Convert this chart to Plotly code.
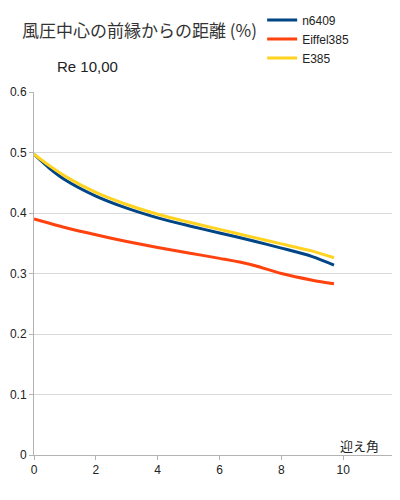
import plotly.graph_objects as go

angles = [0, 0.5, 1, 2, 3, 4, 5, 6, 7, 8, 9, 9.7]
n6409 = [0.497, 0.474, 0.455, 0.428, 0.408, 0.392, 0.379, 0.367, 0.355, 0.342, 0.328, 0.314]
eiffel385 = [0.390, 0.383, 0.376, 0.364, 0.353, 0.343, 0.334, 0.325, 0.315, 0.300, 0.289, 0.283]
e385 = [0.497, 0.478, 0.461, 0.434, 0.414, 0.398, 0.385, 0.373, 0.361, 0.349, 0.337, 0.326]

series = [("n6409", n6409, "#004586"), ("Eiffel385", eiffel385, "#ff420e"), ("E385", e385, "#ffd320")]

y_ticks = [0, 0.1, 0.2, 0.3, 0.4, 0.5, 0.6]
y_labels = ["0", "0.1", "0.2", "0.3", "0.4", "0.5", "0.6"]
x_ticks = [0, 2, 4, 6, 8, 10]

fig = go.Figure()
for name, vals, col in series:
    fig.add_trace(go.Scatter(x=angles, y=vals, mode="lines", name=name,
                             line=dict(color=col, width=3, shape="spline", smoothing=0.8)))

fig.update_layout(
    width=400, height=500,
    margin=dict(l=26, r=6, t=84, b=53, autoexpand=False),
    paper_bgcolor="white", plot_bgcolor="white",
    font=dict(family="Liberation Sans, DejaVu Sans, sans-serif", size=12, color="#222"),
    showlegend=True,
    legend=dict(x=0.62, y=1.146, xref="paper", yref="paper",
                xanchor="left", yanchor="middle",
                font=dict(size=12, color="#222"),
                bgcolor="rgba(0,0,0,0)", tracegroupgap=0),
    xaxis=dict(range=[0, 11.9], tickvals=x_ticks, showgrid=False, zeroline=False,
               showline=True, linecolor="#b3b3b3", linewidth=1, automargin=False,
               ticks="outside", ticklen=4, tickcolor="#b3b3b3",
               tickfont=dict(size=12, color="#222")),
    yaxis=dict(range=[0, 0.6], tickvals=y_ticks, ticktext=y_labels, showgrid=True,
               gridcolor="#d9d9d9", gridwidth=1, zeroline=False, automargin=False,
               showline=True, linecolor="#b3b3b3", linewidth=1,
               ticks="outside", ticklen=4, tickcolor="#b3b3b3",
               tickfont=dict(size=12, color="#222")),
)

fig.add_annotation(text="風圧中心の前縁からの距離 (%)", xref="paper", yref="paper",
                   x=-0.038, y=1.171, xanchor="left", yanchor="middle", showarrow=False,
                   font=dict(family="Noto Sans CJK JP", size=17, color="#333"))
fig.add_annotation(text="Re 10,00", xref="paper", yref="paper",
                   x=0.057, y=1.069, xanchor="left", yanchor="middle", showarrow=False,
                   font=dict(family="Liberation Sans", size=15, color="#222"))
fig.add_annotation(text="迎え角", xref="paper", yref="paper",
                   x=0.826, y=0.0275, xanchor="left", yanchor="middle", showarrow=False,
                   font=dict(family="Noto Sans CJK JP", size=13, color="#222"))

fig.write_html("out.html")
